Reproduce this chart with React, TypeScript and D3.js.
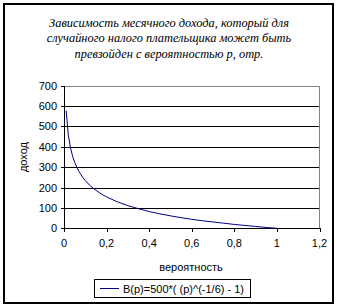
import React from "react";
import * as d3 from "d3";

const titleLines = [
  "Зависимость месячного дохода, который для",
  "случайного налого плательщика может быть",
  "превзойден с вероятностью p, отр.",
];
const pValues = [0.01, 0.02, 0.03, 0.04, 0.05, 0.06, 0.07, 0.08, 0.09, 0.1, 0.12, 0.14, 0.16, 0.18, 0.2, 0.25, 0.3, 0.35, 0.4, 0.45, 0.5, 0.55, 0.6, 0.65, 0.7, 0.75, 0.8, 0.85, 0.9, 0.95, 1.0];
const incomeValues = [577, 460, 397, 355, 324, 299, 279, 262, 247, 234, 212, 194, 179, 165, 154, 130, 111, 96, 82, 71, 61, 52, 44, 37, 31, 25, 19, 14, 9, 4, 0];
const xTicks = [0, 0.2, 0.4, 0.6, 0.8, 1, 1.2];
const yTicks = [0, 100, 200, 300, 400, 500, 600, 700];
const xTitle = "вероятность";
const yTitle = "доход";
const legendLabel = "B(p)=500*( (p)^(-1/6) - 1)";

export default function App() {
  const W = 339, H = 308;
  const x = d3.scaleLinear().domain([0, 1.2]).range([64, 319.5]);
  const y = d3.scaleLinear().domain([0, 700]).range([228.3, 85.5]);
  const line = d3.line<number>().x((_, i) => x(pValues[i])).y((d) => y(d));
  const fmt = (v: number) => String(v).replace(".", ",");
  const sans = "'Liberation Sans', Arial, sans-serif";
  return (
    <svg width={W} height={H} style={{ position: "absolute", left: 0, top: 0 }}>
      <rect x={0} y={0} width={W} height={H} fill="#fff" />
      <rect x={4} y={4} width={329} height={299} fill="none" stroke="#000" strokeWidth={2} />
      {titleLines.map((t, i) => (
        <text key={i} x={169} y={26.5 + i * 15.5} textAnchor="middle" fontFamily="'Liberation Serif', 'Times New Roman', serif" fontStyle="italic" fontSize={12.4}>
          {t}
        </text>
      ))}
      {yTicks.filter((v) => v > 0).map((v) => (
        <line key={"g" + v} x1={x(0)} x2={x(1.2)} y1={Math.round(y(v)) + 0.5} y2={Math.round(y(v)) + 0.5} stroke={v === 700 ? "#808080" : "#000"} strokeWidth={1} />
      ))}
      <line x1={319.5} x2={319.5} y1={Math.round(y(700)) + 0.5} y2={Math.round(y(0)) + 0.5} stroke="#808080" />
      <line x1={64.5} x2={64.5} y1={Math.round(y(700))} y2={Math.round(y(0)) + 1} stroke="#000" />
      <line x1={64} x2={320} y1={Math.round(y(0)) + 0.5} y2={Math.round(y(0)) + 0.5} stroke="#000" />
      {yTicks.map((v) => (
        <g key={"y" + v}>
          <line x1={61} x2={64.5} y1={Math.round(y(v)) + 0.5} y2={Math.round(y(v)) + 0.5} stroke="#000" />
          <text x={57} y={y(v) + 4} textAnchor="end" fontFamily={sans} fontSize={11}>{v}</text>
        </g>
      ))}
      {xTicks.map((v) => (
        <g key={"x" + v}>
          <line x1={Math.round(x(v)) + 0.5} x2={Math.round(x(v)) + 0.5} y1={228} y2={232} stroke="#000" />
          <text x={x(v)} y={247} textAnchor="middle" fontFamily={sans} fontSize={11}>{fmt(v)}</text>
        </g>
      ))}
      <text x={191} y={271} textAnchor="middle" fontFamily={sans} fontSize={11}>{xTitle}</text>
      <text transform="translate(27,157) rotate(-90)" textAnchor="middle" fontFamily={sans} fontSize={11}>{yTitle}</text>
      <path d={line(incomeValues) || ""} fill="none" stroke="#000080" strokeWidth={1} />
      <rect x={94.5} y={279.5} width={156} height={18} fill="#fff" stroke="#000" strokeWidth={1} />
      <line x1={100} x2={119} y1={288.5} y2={288.5} stroke="#000080" />
      <text x={123} y={292.5} fontFamily={sans} fontSize={11}>{legendLabel}</text>
    </svg>
  );
}
